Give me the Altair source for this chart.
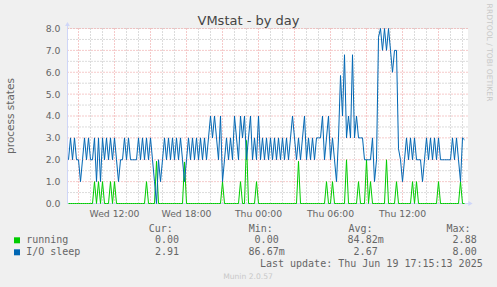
import altair as alt
import pandas as pd

# ---------------- data ----------------
# samples every 10 minutes, hours counted from Wed 00:00, first sample Wed 08:10
t_start = 8 + 10 / 60
t_step = 10 / 60

# I/O sleep, one list per 3-hour block
io_0810 = [2, 3, 2, 3, 2]
io_0900 = [2, 1, 2, 3, 2, 3, 2, 2, 3, 1, 3, 1, 3, 2, 3, 2, 3, 2]
io_1200 = [3, 2, 1, 2, 2, 3, 2, 3, 2, 2, 2, 2, 3, 2, 3, 2, 3, 2]
io_1500 = [3, 2, 1, 0, 2, 1, 2, 3, 2, 3, 2, 3, 2, 3, 2, 3, 2, 1]
io_1800 = [2, 3, 2, 3, 2, 3, 2, 3, 2, 3, 2, 3, 4, 3, 4, 3, 2, 4]
io_2100 = [1, 2, 3, 2, 3, 2, 4, 3, 2, 4, 3, 4, 2, 3, 4, 2, 3, 2]
io_t0000 = [4, 2, 3, 2, 3, 2, 3, 2, 3, 2, 3, 2, 3, 2, 3, 2, 3, 4]
io_t0300 = [3, 2, 3, 2, 3, 4, 2, 3, 2, 3, 2, 3, 3, 3, 4, 2, 3, 4]
io_t0600 = [2, 3, 2, 1, 3, 5.85, 4, 6.8, 3, 4, 3, 6.8, 3, 4, 3, 3, 3, 2]
io_t0900 = [2, 2, 2, 3, 1, 2, 7.6, 8, 7, 8, 7, 8, 7, 6, 7, 7, 2.5, 2]
io_t1200 = [1, 2, 3, 2, 3, 2, 3, 2, 2, 2, 1, 2, 3, 2, 3, 2, 3, 2]
io_t1500 = [3, 2, 2, 2, 2, 2, 2, 3, 2, 3, 2, 1, 3, 2.91]

# running, same blocks
run_0810 = [0, 0, 0, 0, 0]
run_0900 = [0, 0, 0, 0, 0, 0, 0, 0, 1, 0, 1, 0, 1, 0, 0, 0, 1, 0]
run_1200 = [1, 0, 0, 0, 0, 0, 0, 0, 0, 0, 0, 0, 0, 0, 0, 0, 1, 0]
run_1500 = [0, 0, 0, 1.93, 0, 0, 0, 0, 0, 0, 0, 0, 0, 0, 0, 0, 0, 1.9]
run_1800 = [0, 0, 0, 0, 0, 0, 0, 0, 0, 0, 0, 0, 0, 0, 0, 0, 0, 0]
run_2100 = [1, 0, 0, 0, 0, 0, 0, 0, 0, 1, 0, 0, 2.88, 0, 0, 0, 0, 1]
run_t0000 = [0, 0, 0, 0, 0, 0, 0, 0, 0, 0, 0, 0, 0, 0, 0, 0, 0, 0]
run_t0300 = [0, 0, 1.93, 0, 0, 0, 0, 0, 0, 0, 0, 0, 0, 0, 0, 0, 1, 0]
run_t0600 = [0, 1, 0, 0, 0, 0, 0, 0, 2, 0, 0, 0, 0, 0, 1, 0, 0, 0]
run_t0900 = [2, 0, 1, 0, 0, 0, 0, 0, 0, 0, 2, 0, 0, 0, 0, 1, 0, 0]
run_t1200 = [0, 0, 0, 0, 0, 1, 0, 1, 0, 0, 0, 0, 0, 0, 0, 0, 0, 0]
run_t1500 = [1, 0, 0, 0, 0, 0, 0, 0, 0, 0, 0, 1, 0, 0]

x_tick_hours = [12, 18, 24, 30, 36]
x_tick_labels = ["Wed 12:00", "Wed 18:00", "Thu 00:00", "Thu 06:00", "Thu 12:00"]
y_tick_values = [0, 1, 2, 3, 4, 5, 6, 7, 8]

series_names = ["running", "I/O sleep"]
series_colors = ["#00CC00", "#0066B3"]
stat_headers = ["Cur:", "Min:", "Avg:", "Max:"]
stat_cur = ["0.00", "2.91"]
stat_min = ["0.00", "86.67m"]
stat_avg = ["84.82m", "2.67"]
stat_max = ["2.88", "8.00"]
last_update = "Last update: Thu Jun 19 17:15:13 2025"

# ---------------- assemble ----------------
io_sleep = (io_0810 + io_0900 + io_1200 + io_1500 + io_1800 + io_2100 + io_t0000
            + io_t0300 + io_t0600 + io_t0900 + io_t1200 + io_t1500)
running = (run_0810 + run_0900 + run_1200 + run_1500 + run_1800 + run_2100 + run_t0000
           + run_t0300 + run_t0600 + run_t0900 + run_t1200 + run_t1500)
assert len(io_sleep) == len(running)
hours = [t_start + i * t_step for i in range(len(io_sleep))]
df = pd.DataFrame({"h": hours, "running": running, "io": io_sleep})

x_dom = [8 + 5 / 60, 41 + 25 / 60]
xs = alt.Scale(domain=x_dom, nice=False, zero=False)
ys = alt.Scale(domain=[0, 8], nice=False)

AXIS_COL = "#CFD6F8"
FONT_COL = "#666666"
SANS = "DejaVu Sans"
MONO = "DejaVu Sans Mono"

minor_x = [h for h in range(9, 42) if h % 3 != 0]
major_x = list(range(9, 42, 3))
minor_y = [k + 0.5 for k in range(8)]
major_y = list(range(1, 9))

vminor = alt.Chart(pd.DataFrame({"h": minor_x})).mark_rule(
    color="#b8b8b8", strokeDash=[1, 2], strokeWidth=1
).encode(x=alt.X("h:Q", scale=xs, axis=None))
vmajor = alt.Chart(pd.DataFrame({"h": major_x})).mark_rule(
    color="#EB9595", strokeDash=[1, 2], strokeWidth=1
).encode(x=alt.X("h:Q", scale=xs, axis=None))
hminor = alt.Chart(pd.DataFrame({"v": minor_y})).mark_rule(
    color="#b8b8b8", strokeDash=[1, 2], strokeWidth=1
).encode(y=alt.Y("v:Q", scale=ys, axis=None))
hmajor = alt.Chart(pd.DataFrame({"v": major_y})).mark_rule(
    color="#EB9595", strokeDash=[1, 2], strokeWidth=1
).encode(y=alt.Y("v:Q", scale=ys, axis=None))

# axis lines (drawn as rules) and tick labels (text through the scales)
one = pd.DataFrame({"k": [0]})
y_axis_line = alt.Chart(one).mark_rule(color=AXIS_COL, strokeWidth=1).encode(
    x=alt.value(0), y=alt.value(-3), y2=alt.value(175.5))
x_axis_line = alt.Chart(one).mark_rule(color=AXIS_COL, strokeWidth=1).encode(
    x=alt.value(-0.5), x2=alt.value(402), y=alt.value(175))

x_labels = alt.Chart(pd.DataFrame({"h": x_tick_hours, "lab": x_tick_labels})).mark_text(
    font=SANS, fontSize=9.3, color=FONT_COL, align="center", baseline="alphabetic"
).encode(x=alt.X("h:Q", scale=xs, axis=None), y=alt.value(188), text="lab:N")
y_labels = alt.Chart(pd.DataFrame({"v": y_tick_values})).mark_text(
    font=SANS, fontSize=9.3, color=FONT_COL, align="right", baseline="alphabetic", dy=3.4
).encode(x=alt.value(-7), y=alt.Y("v:Q", scale=ys, axis=None), text=alt.Text("v:Q", format=".1f"))

base = alt.Chart(df)
run_line = base.mark_line(color=series_colors[0], strokeWidth=1).encode(
    x=alt.X("h:Q", scale=xs, axis=None), y=alt.Y("running:Q", scale=ys, axis=None))
io_line = base.mark_line(color=series_colors[1], strokeWidth=1).encode(
    x=alt.X("h:Q", scale=xs, axis=None), y=alt.Y("io:Q", scale=ys, axis=None))


def txt(t, x, y, size, color=FONT_COL, align="left", baseline="alphabetic", font=SANS, angle=0):
    kw = dict(text=t, align=align, baseline=baseline, font=font, fontSize=size, color=color)
    if angle:
        kw["angle"] = angle
    return alt.Chart(one).mark_text(**kw).encode(x=alt.value(x), y=alt.value(y))


layers = [vminor, hminor, vmajor, hmajor, y_axis_line, x_axis_line, x_labels, y_labels,
          run_line, io_line]

# axis arrows
layers.append(alt.Chart(one).mark_point(shape="triangle-up", filled=True, size=24, color=AXIS_COL,
                                        opacity=1).encode(x=alt.value(0), y=alt.value(-4.5)))
layers.append(alt.Chart(one).mark_point(shape="triangle-right", filled=True, size=24, color=AXIS_COL,
                                        opacity=1).encode(x=alt.value(403), y=alt.value(175)))

# titles
layers.append(txt("VMstat - by day", 181, -4, 13, color="#444444", align="center"))
layers.append(txt("process states", -56.5, 87.5, 10.5, align="center", baseline="middle", angle=270))
layers.append(txt("RRDTOOL / TOBI OETIKER", 421, 24, 7.6, color="#c8c8c8", align="center",
                  baseline="middle", angle=90))

# legend
hdr_left = [81.2, 181.2, 280.9, 378.9]
col_right = [117.5, 217.2, 316.2, 415.2]
char_w = 6.02
row_base = [214.8, 226.8]
for i, hname in enumerate(stat_headers):
    layers.append(txt(hname, hdr_left[i], 203.2, 10, font=MONO))
stats = [stat_cur, stat_min, stat_avg, stat_max]
for r, name in enumerate(series_names):
    layers.append(alt.Chart(one).mark_square(size=36, color=series_colors[r], opacity=1).encode(
        x=alt.value(-50.5), y=alt.value(row_base[r] - 3)))
    layers.append(txt(name, -41.3, row_base[r], 10, font=MONO))
    for c in range(4):
        s = stats[c][r]
        right = col_right[c] if s.endswith("m") else col_right[c] - char_w
        layers.append(txt(s, right, row_base[r], 10, font=MONO, align="right"))
layers.append(txt(last_update, 415.2, 238.2, 10, font=MONO, align="right"))
layers.append(txt("Munin 2.0.57", 180.5, 250.2, 7.6, color="#c8c8c8", align="center"))

chart = alt.layer(*layers).properties(
    width=400, height=175,
    padding={"left": 67.5, "top": 28.5, "right": 29.5, "bottom": 83.5},
    autosize=alt.AutoSizeParams(type="none"),
    background="#F0F0F0",
).configure_view(fill="white", stroke="transparent")

chart.save("out.html", embed_options={"renderer": "svg", "actions": False})
